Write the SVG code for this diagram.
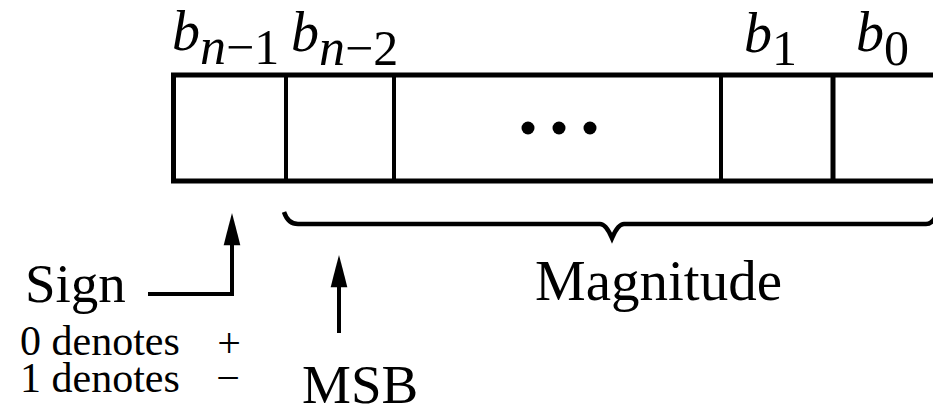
<svg xmlns="http://www.w3.org/2000/svg" width="933" height="409" viewBox="0 0 933 409" font-family="'Liberation Serif', 'Times New Roman', Times, serif">
<style>
  text{font-family:'Liberation Serif', 'Times New Roman', Times, serif;fill:#000}
  .i{font-style:italic}
  .ln{fill:none;stroke:#000;stroke-linecap:butt;stroke-linejoin:miter}
</style>
<defs>
  <marker id="ah" markerUnits="userSpaceOnUse" markerWidth="40" markerHeight="30" viewBox="-4 -10 36 20" refX="0" refY="0" orient="auto" overflow="visible">
    <path d="M-2,-7.5 Q12,-4 27,0 Q12,4 -2,7.5 Z" fill="#000"/>
  </marker>
</defs>
<rect width="933" height="409" fill="#fff"/>
<g id="register">
  <path class="ln" d="M940,75 H173.5 V181 H940" stroke-width="5"/>
  <line class="ln" x1="286" y1="75" x2="286" y2="181" stroke-width="4"/>
  <line class="ln" x1="394" y1="75" x2="394" y2="181" stroke-width="4"/>
  <line class="ln" x1="721" y1="75" x2="721" y2="181" stroke-width="4"/>
  <line class="ln" x1="833" y1="75" x2="833" y2="181" stroke-width="5"/>
  <circle cx="528" cy="128" r="6.5"/>
  <circle cx="559" cy="128" r="6.5"/>
  <circle cx="590" cy="128" r="6.5"/>
</g>
<g id="bit-labels">
  <text x="172" y="50" font-size="56"><tspan class="i">b</tspan><tspan class="i" y="64" font-size="52">n</tspan><tspan font-size="50">−1</tspan></text>
  <text x="291" y="51" font-size="56"><tspan class="i">b</tspan><tspan class="i" y="65" font-size="52">n</tspan><tspan font-size="50">−2</tspan></text>
  <text x="744" y="52" font-size="56"><tspan class="i">b</tspan><tspan y="65" font-size="50">1</tspan></text>
  <text x="856" y="51" font-size="56"><tspan class="i">b</tspan><tspan y="65" font-size="50">0</tspan></text>
</g>
<g id="magnitude">
  <path class="ln" stroke-width="4.5" d="M284,212 Q288,224 298,224 H600 Q606,224 612,238 Q618,224 624,224 H926 Q932,224 936,216"/>
  <text x="535" y="300" font-size="57">Magnitude</text>
</g>
<g id="sign">
  <text x="25" y="302" font-size="55">Sign</text>
  <text x="20" y="355" font-size="42">0 denotes</text>
  <text x="20" y="392" font-size="42">1 denotes</text>
  <text x="229" y="357" font-size="42" text-anchor="middle">+</text>
  <text x="228" y="392" font-size="42" text-anchor="middle">−</text>
</g>
<g id="msb">
  <text x="302" y="403" font-size="55">MSB</text>
</g>
<g id="connectors">
  <path class="ln" stroke-width="4" d="M148,294 H232 V243" marker-end="url(#ah)"/>
  <path class="ln" stroke-width="4" d="M339,333 V285" marker-end="url(#ah)"/>
</g>
</svg>
